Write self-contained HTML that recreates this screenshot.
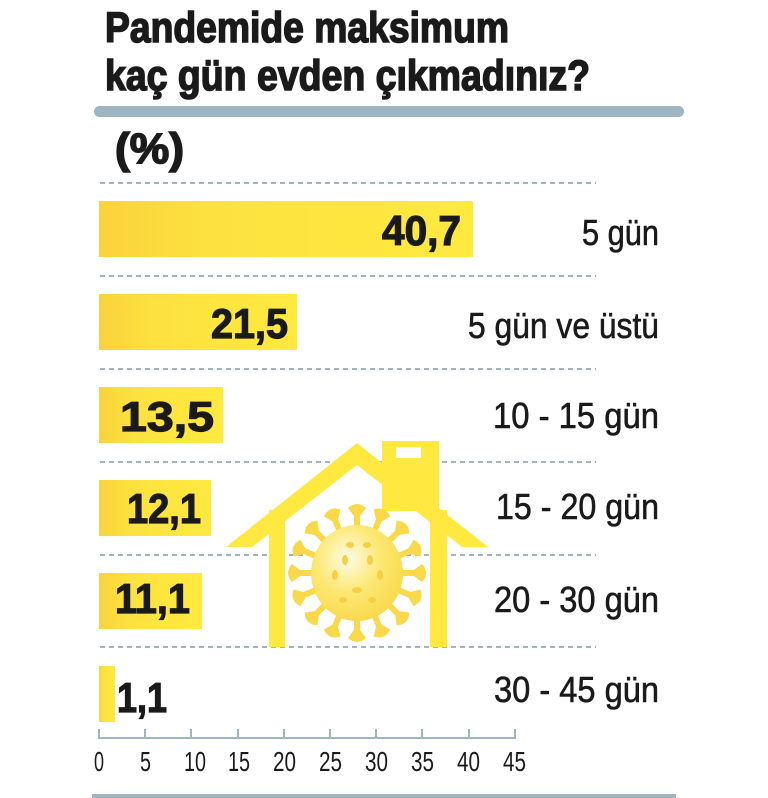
<!DOCTYPE html>
<html><head><meta charset="utf-8"><style>html,body{margin:0;padding:0;background:#fff}svg{display:block}</style></head>
<body>
<svg width="768" height="798" viewBox="0 0 768 798" xmlns="http://www.w3.org/2000/svg" font-family="'Liberation Sans', sans-serif">
<defs>
<linearGradient id="bg" x1="0" x2="1" y1="0" y2="0"><stop offset="0" stop-color="#f9d33c"/><stop offset="0.3" stop-color="#fde23f"/><stop offset="1" stop-color="#ffe93f"/></linearGradient>
<radialGradient id="vg" cx="0.4" cy="0.35" r="0.7"><stop offset="0" stop-color="#fffbe6"/><stop offset="0.5" stop-color="#fde874"/><stop offset="1" stop-color="#f8d84a"/></radialGradient>
</defs>
<g font-weight="bold" fill="#1a1a1a" stroke="#1a1a1a" stroke-width="1.6">
<text x="105" y="42" font-size="43" textLength="404" lengthAdjust="spacingAndGlyphs">Pandemide maksimum</text>
<text x="105" y="90" font-size="43" textLength="485" lengthAdjust="spacingAndGlyphs">kaç gün evden çıkmadınız?</text>
<text x="115" y="163" font-size="43" textLength="69" lengthAdjust="spacingAndGlyphs">(%)</text>
</g>
<rect x="94" y="106" width="590" height="11" rx="5.5" fill="#9fb5c2"/>
<g stroke="#9fb5c2" stroke-width="2" stroke-dasharray="5,4">
<line x1="100" y1="183" x2="596" y2="183"/><line x1="100" y1="276" x2="596" y2="276"/><line x1="100" y1="369" x2="596" y2="369"/>
<line x1="100" y1="462" x2="596" y2="462"/><line x1="100" y1="555" x2="596" y2="555"/><line x1="100" y1="647" x2="596" y2="647"/>
</g>
<g fill="#ffe83f">
<rect x="382" y="441" width="57" height="70"/>
<polygon points="357,443 488,547 462,547 357,465 252,547 226,547"/>
<rect x="269" y="510" width="16" height="137"/>
<rect x="430" y="510" width="17" height="137"/>
</g>
<rect x="396" y="447" width="25" height="11" fill="#fff"/>
<g fill="#f9d84a">
<g id="sp">
<rect x="354" y="512" width="6" height="20"/><path d="M348,508 Q357,500 366,508 L360,516 L354,516 Z"/>
</g>
<use href="#sp" transform="rotate(22.5 357 573)"/><use href="#sp" transform="rotate(45 357 573)"/><use href="#sp" transform="rotate(67.5 357 573)"/>
<use href="#sp" transform="rotate(90 357 573)"/><use href="#sp" transform="rotate(112.5 357 573)"/><use href="#sp" transform="rotate(135 357 573)"/>
<use href="#sp" transform="rotate(157.5 357 573)"/><use href="#sp" transform="rotate(180 357 573)"/><use href="#sp" transform="rotate(202.5 357 573)"/>
<use href="#sp" transform="rotate(225 357 573)"/><use href="#sp" transform="rotate(247.5 357 573)"/><use href="#sp" transform="rotate(270 357 573)"/>
<use href="#sp" transform="rotate(292.5 357 573)"/><use href="#sp" transform="rotate(315 357 573)"/><use href="#sp" transform="rotate(337.5 357 573)"/>
</g>
<ellipse cx="357" cy="573" rx="46" ry="48" fill="url(#vg)"/>
<g fill="#f6cf45">
<ellipse cx="345" cy="560" rx="3" ry="5"/><ellipse cx="370" cy="560" rx="3" ry="5"/><ellipse cx="335" cy="575" rx="3" ry="5"/><ellipse cx="380" cy="575" rx="3" ry="5"/>
<ellipse cx="357" cy="590" rx="5" ry="3"/><ellipse cx="343" cy="600" rx="4" ry="3"/><ellipse cx="372" cy="600" rx="4" ry="3"/><ellipse cx="350" cy="545" rx="4" ry="3"/><ellipse cx="367" cy="545" rx="4" ry="3"/>
</g>
<g fill="url(#bg)">
<rect x="99" y="201" width="374" height="56"/>
<rect x="99" y="294" width="198" height="56"/>
<rect x="99" y="387" width="124" height="56"/>
<rect x="99" y="480" width="112" height="56"/>
<rect x="99" y="573" width="103" height="56"/>
<rect x="99" y="666" width="16" height="56"/>
</g>
<g font-weight="bold" fill="#1a1a1a" stroke="#1a1a1a" stroke-width="1.2" font-size="42">
<text x="382" y="245" textLength="79" lengthAdjust="spacingAndGlyphs">40,7</text>
<text x="211" y="338" textLength="77" lengthAdjust="spacingAndGlyphs">21,5</text>
<text x="120" y="431" textLength="94" lengthAdjust="spacingAndGlyphs">13,5</text>
<text x="127" y="523" textLength="74" lengthAdjust="spacingAndGlyphs">12,1</text>
<text x="115" y="613" textLength="75" lengthAdjust="spacingAndGlyphs">11,1</text>
<text x="117" y="712" textLength="50" lengthAdjust="spacingAndGlyphs">1,1</text>
</g>
<g fill="#1a1a1a" stroke="#1a1a1a" stroke-width="0.6" font-size="36">
<text x="582" y="245" textLength="77" lengthAdjust="spacingAndGlyphs">5 gün</text>
<text x="468" y="338" textLength="191" lengthAdjust="spacingAndGlyphs">5 gün ve üstü</text>
<text x="493" y="428" textLength="166" lengthAdjust="spacingAndGlyphs">10 - 15 gün</text>
<text x="496" y="519" textLength="163" lengthAdjust="spacingAndGlyphs">15 - 20 gün</text>
<text x="494" y="612" textLength="165" lengthAdjust="spacingAndGlyphs">20 - 30 gün</text>
<text x="494" y="702" textLength="165" lengthAdjust="spacingAndGlyphs">30 - 45 gün</text>
</g>
<g stroke="#9fb5c2" stroke-width="2" fill="none">
<polyline points="99,729 99,738 515,738 515,729"/>
<line x1="145" y1="729" x2="145" y2="738"/><line x1="191" y1="729" x2="191" y2="738"/><line x1="238" y1="729" x2="238" y2="738"/>
<line x1="284" y1="729" x2="284" y2="738"/><line x1="330" y1="729" x2="330" y2="738"/><line x1="376" y1="729" x2="376" y2="738"/>
<line x1="422" y1="729" x2="422" y2="738"/><line x1="469" y1="729" x2="469" y2="738"/>
</g>
<g fill="#1a1a1a" font-size="28">
<text x="94" y="771" textLength="10" lengthAdjust="spacingAndGlyphs">0</text>
<text x="140" y="771" textLength="11" lengthAdjust="spacingAndGlyphs">5</text>
<text x="184" y="771" textLength="22" lengthAdjust="spacingAndGlyphs">10</text>
<text x="228" y="771" textLength="22" lengthAdjust="spacingAndGlyphs">15</text>
<text x="273" y="771" textLength="23" lengthAdjust="spacingAndGlyphs">20</text>
<text x="319" y="771" textLength="23" lengthAdjust="spacingAndGlyphs">25</text>
<text x="365" y="771" textLength="23" lengthAdjust="spacingAndGlyphs">30</text>
<text x="411" y="771" textLength="23" lengthAdjust="spacingAndGlyphs">35</text>
<text x="457" y="771" textLength="23" lengthAdjust="spacingAndGlyphs">40</text>
<text x="503" y="771" textLength="23" lengthAdjust="spacingAndGlyphs">45</text>
</g>
<rect x="92" y="794" width="584" height="4" fill="#9fb5c2"/>
</svg>
</body></html>
